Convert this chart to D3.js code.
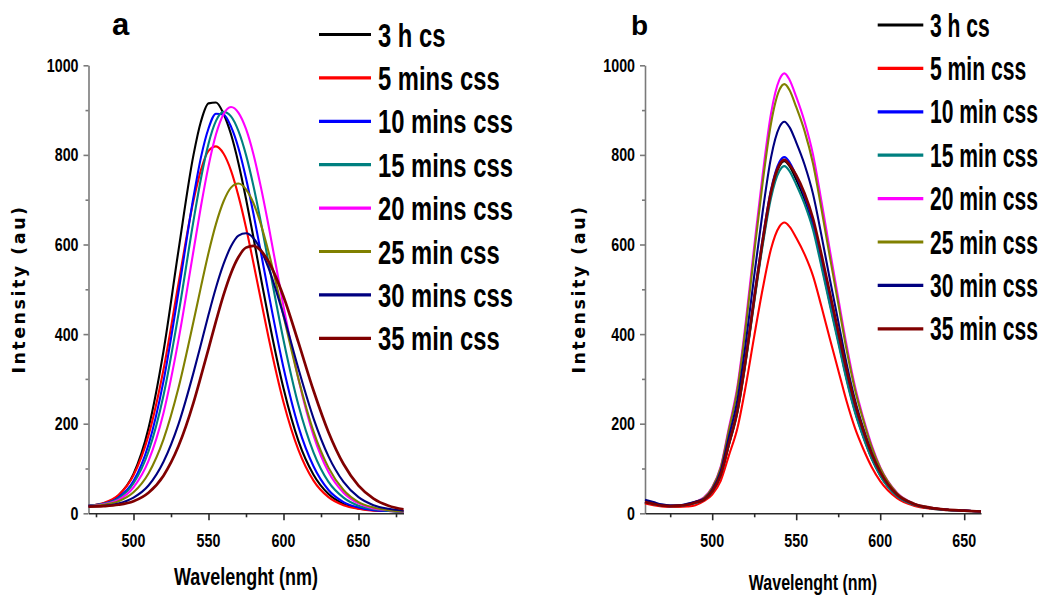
<!DOCTYPE html>
<html>
<head>
<meta charset="utf-8">
<script src="https://cdn.jsdelivr.net/npm/d3@7"></script>
<style>
  body { margin: 0; background: #fff; }
  svg { display: block; }
</style>
</head>
<body>
<svg id="chart" width="1042" height="596"></svg>
<script>
// ---- Panel a: emission spectra, wavelength grid (nm) ----
const wavelengthsA = [470,480,490,500,510,520,530,540,545,550,555,560,565,570,575,580,585,590,600,610,620,630,640,650,660,670,680];
const labelsA = ["3 h cs","5 mins css","10 mins css","15 mins css","20 mins css","25 min css","30 mins css","35 min css"];
const a_3h   = [17,22,40,88,190,362,587,800,875,915,917,892,846,781,702,615,524,436,279,161,86,43,21,11,7,5,4];
const a_5m   = [17,23,41,85,174,321,513,698,767,809,819,803,765,708,638,558,475,393,248,141,73,36,18,10,6,5,4];
const a_10m  = [17,21,35,72,153,295,494,706,795,859,892,890,863,815,748,668,581,492,325,193,105,52,25,13,7,5,4];
const a_15m  = [17,21,33,67,138,263,445,653,748,825,876,896,886,853,800,730,648,560,387,241,136,70,35,17,9,6,4];
const a_20m  = [16,20,30,58,117,224,387,586,686,775,846,891,907,894,858,801,727,643,462,299,174,92,46,22,11,7,4];
const a_25m  = [16,19,27,47,89,165,280,428,506,581,646,696,727,736,723,692,644,584,441,300,183,102,52,25,13,7,4];
const a_30m  = [16,17,22,35,62,115,199,314,378,443,504,556,596,620,625,614,587,548,442,322,212,127,70,36,18,10,6];
const a_35m  = [15,16,19,27,46,84,150,247,306,367,429,487,536,572,593,597,586,562,484,381,274,181,110,62,33,17,9];

// ---- Panel b ----
const wavelengthsB = [460,465,470,475,480,485,490,495,500,505,510,515,520,525,530,535,540,543,546,550,555,560,565,570,575,580,585,590,595,600,610,620,630,640,650,660];
const labelsB = ["3 h cs","5 min css","10 min css","15 min css","20 min css","25 min css","30 min css","35 min css"];
const b_3h   = [24,20,17,16,17,19,24,30,48,85,155,228,343,477,604,714,775,786,775,745,700,642,558,470,386,301,228,171,122,85,39,20,12,8,6,4];
const b_5m   = [22,18,15,14,14,15,18,27,42,72,130,190,285,395,500,590,640,649,640,615,578,530,462,390,320,250,190,143,103,72,34,17,10,7,5,4];
const b_10m  = [26,21,17,16,17,19,24,30,49,86,157,231,348,483,612,722,784,795,784,753,708,649,565,477,391,305,231,173,124,86,39,20,12,8,6,4];
const b_15m  = [25,20,17,16,16,19,23,30,48,84,153,225,339,471,597,704,764,775,764,734,690,633,551,465,381,297,225,169,121,84,38,19,11,7,5,4];
const b_20m  = [25,21,17,16,17,20,26,35,58,103,192,283,428,595,755,892,968,982,968,930,874,801,697,588,481,375,283,212,151,103,46,22,13,8,6,4];
const b_25m  = [25,21,17,16,17,20,26,34,57,101,187,276,417,581,737,870,945,958,945,907,853,781,680,573,469,365,276,207,147,101,45,22,13,8,6,4];
const b_30m  = [30,25,20,18,18,21,26,32,53,93,172,253,381,530,672,794,862,874,862,828,778,713,621,523,429,334,253,189,135,93,42,21,12,8,6,4];
const b_35m  = [25,21,17,16,17,19,24,30,49,85,156,229,345,479,607,717,778,789,778,755,714,658,578,492,406,320,245,184,132,92,42,21,12,8,6,4];

const colors = ["#000000","#ff0000","#0000ff","#008080","#ff00ff","#808000","#000080","#800000"];
const yTicksMajor = [0,200,400,600,800,1000];
const yTicksMinor = [100,300,500,700,900];

const svg = d3.select("#chart");
const FONT = '"Liberation Sans", Arial, Helvetica, sans-serif';

// bold text squeezed horizontally (narrow look)
function narrowText(g, x, y, str, size, sx, anchor) {
  return g.append("text")
    .attr("x", x / sx).attr("y", y)
    .attr("transform", `scale(${sx},1)`)
    .attr("font-family", FONT).attr("font-weight", "bold")
    .attr("font-size", size).attr("text-anchor", anchor || "start")
    .attr("fill", "#000").text(str);
}

function drawPanel(cfg) {
  const g = svg.append("g");
  const x = d3.scaleLinear().domain(cfg.xDomain).range(cfg.xRange);
  const y = d3.scaleLinear().domain([0, 1000]).range([513.3, 65.3]);
  const x0 = cfg.xRange[0], y0 = y(0);

  // y axis
  const yAxis = g.append("g").attr("transform", `translate(${x0},0)`)
    .call(d3.axisLeft(y).tickValues(yTicksMajor).tickSize(5).tickSizeOuter(0).tickFormat(""));
  const yMinor = g.append("g").attr("transform", `translate(${x0},0)`)
    .call(d3.axisLeft(y).tickValues(yTicksMinor).tickSize(3).tickSizeOuter(0).tickFormat(""));
  yMinor.select(".domain").remove();
  [yAxis, yMinor].forEach(s => {
    s.selectAll("path,line").attr("stroke", "#7a7a7a").attr("stroke-width", 1.6);
  });
  yTicksMajor.forEach(v => narrowText(g, x0 - 10, y(v) + 6.6, String(v), 18.5, 0.77, "end"));

  // x axis
  const xAxis = g.append("g").attr("transform", `translate(0,${y0})`)
    .call(d3.axisBottom(x).tickValues(cfg.xMajor).tickSize(7).tickSizeOuter(0).tickFormat(""));
  const xMinor = g.append("g").attr("transform", `translate(0,${y0})`)
    .call(d3.axisBottom(x).tickValues(cfg.xMinor).tickSize(4).tickSizeOuter(0).tickFormat(""));
  xMinor.select(".domain").remove();
  [xAxis, xMinor].forEach(s => {
    s.selectAll("path,line").attr("stroke", "#2a2a2a").attr("stroke-width", 1.6);
  });
  cfg.xMajor.forEach(v => narrowText(g, x(v), 547, String(v), 18.5, 0.77, "middle"));

  // curves
  const line = d3.line()
    .x((d, i) => x(cfg.wavelengths[i]))
    .y(d => y(d))
    .curve(d3.curveMonotoneX);
  cfg.series.forEach((s, i) => {
    g.append("path").datum(s)
      .attr("d", line)
      .attr("fill", "none")
      .attr("stroke", colors[i])
      .attr("stroke-width", i === 7 ? 2.7 : 2.1)
      .attr("stroke-linejoin", "round");
  });

  // legend
  cfg.labels.forEach((lab, i) => {
    const ly = cfg.legend.y0 + i * cfg.legend.step;
    g.append("line")
      .attr("x1", cfg.legend.x1).attr("x2", cfg.legend.x2)
      .attr("y1", ly).attr("y2", ly)
      .attr("stroke", colors[i]).attr("stroke-width", 3.2);
    narrowText(g, cfg.legend.tx, ly + cfg.legend.size * 0.358, lab, cfg.legend.size, cfg.legend.sx, "start");
  });

  // axis titles
  narrowText(g, (cfg.xRange[0] + cfg.xRange[1]) / 2, cfg.xTitle.y, "Wavelenght (nm)", cfg.xTitle.size, cfg.xTitle.sx, "middle");
  g.append("text")
    .attr("transform", `translate(${cfg.yTitleX},289) rotate(-90)`)
    .attr("text-anchor", "middle")
    .attr("font-family", '"DejaVu Sans", Verdana, sans-serif')
    .attr("font-weight", "bold").attr("font-size", 17.5)
    .attr("letter-spacing", 2.5)
    .attr("fill", "#000")
    .text("Intensity (au)");

  // panel letter
  g.append("text")
    .attr("x", cfg.letter.x).attr("y", 35)
    .attr("font-family", FONT).attr("font-weight", "bold")
    .attr("font-size", cfg.letter.size).attr("fill", "#000")
    .text(cfg.letter.t);
}

drawPanel({
  xDomain: [470, 680], xRange: [88.5, 403.5],
  xMajor: [500, 550, 600, 650], xMinor: [475, 525, 575, 625, 675],
  wavelengths: wavelengthsA,
  series: [a_3h, a_5m, a_10m, a_15m, a_20m, a_25m, a_30m, a_35m],
  labels: labelsA,
  legend: { x1: 319, x2: 371, tx: 378, y0: 34.5, step: 43.4, size: 34, sx: 0.7 },
  xTitle: { y: 585, size: 23, sx: 0.78 },
  yTitleX: 25,
  letter: { t: "a", x: 112, size: 31 }
});

drawPanel({
  xDomain: [460, 660], xRange: [645, 981],
  xMajor: [500, 550, 600, 650], xMinor: [475, 525, 575, 625],
  wavelengths: wavelengthsB,
  series: [b_3h, b_5m, b_10m, b_15m, b_20m, b_25m, b_30m, b_35m],
  labels: labelsB,
  legend: { x1: 877.7, x2: 923.3, tx: 930, y0: 25, step: 43.4, size: 32.5, sx: 0.65 },
  xTitle: { y: 590, size: 21.5, sx: 0.745 },
  yTitleX: 585,
  letter: { t: "b", x: 631, size: 28 }
});
</script>
</body>
</html>
